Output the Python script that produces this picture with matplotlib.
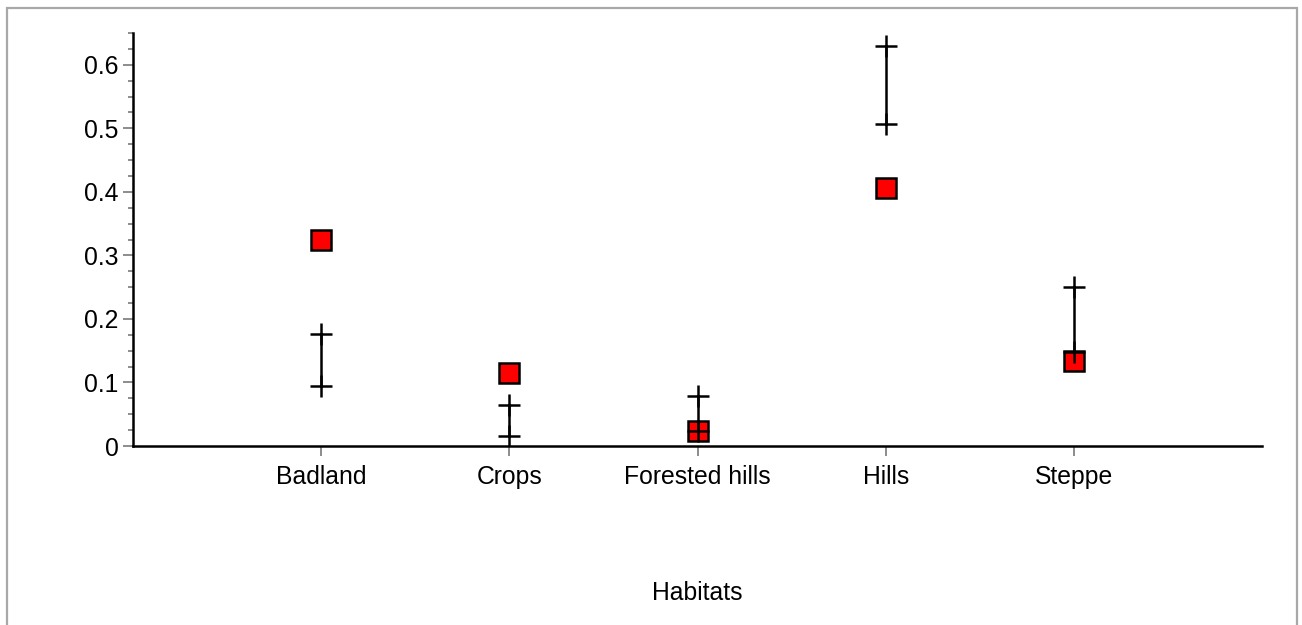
import matplotlib
matplotlib.use("Agg")
import matplotlib.pyplot as plt
from matplotlib.patches import Rectangle
from matplotlib.ticker import MultipleLocator
import numpy as np

plt.rcParams['font.family'] = ['Liberation Sans', 'DejaVu Sans']

# habitat categories and observed proportions
habitats = ['Badland', 'Crops', 'Forested hills', 'Hills', 'Steppe']
observed = [0.324, 0.115, 0.024, 0.406, 0.134]
# expected interval (lower / upper bounds)
ci_low = [0.094, 0.015, 0.024, 0.506, 0.148]
ci_high = [0.177, 0.064, 0.079, 0.629, 0.251]

x = np.arange(len(habitats))

fig = plt.figure(figsize=(13.02, 6.25), dpi=100)
ax = fig.add_axes([0.1022, 0.2864, 0.8671, 0.6608])

# observed values as red squares
ax.plot(x, observed, linestyle='none', marker='s', markersize=14,
        markerfacecolor='#ff0000', markeredgecolor='black', markeredgewidth=1.8,
        zorder=3)

# interval: vertical line with + markers at both ends
ax.vlines(x, ci_low, ci_high, colors='black', linewidth=1.8, zorder=4)
ax.plot(x, ci_low, linestyle='none', marker='+', markersize=15.5,
        markeredgewidth=1.8, color='black', zorder=4)
ax.plot(x, ci_high, linestyle='none', marker='+', markersize=15.5,
        markeredgewidth=1.8, color='black', zorder=4)

ax.set_xlim(-1, 5)
ax.set_ylim(0, 0.65)
ax.set_xticks(x)
ax.set_xticklabels(habitats, fontsize=17.8)
ax.yaxis.set_major_locator(MultipleLocator(0.1))
ax.yaxis.set_minor_locator(MultipleLocator(0.025))
ax.set_yticks(np.arange(0, 0.61, 0.1))
ax.set_yticklabels(['0', '0.1', '0.2', '0.3', '0.4', '0.5', '0.6'], fontsize=17.8)

ax.tick_params(axis='both', which='major', length=7.5, width=1.4, color='#8c8c8c')
ax.tick_params(axis='y', which='minor', length=3.8, width=1.4, color='#8c8c8c')
ax.tick_params(axis='x', pad=6)
ax.tick_params(axis='y', pad=3)

for side in ['top', 'right']:
    ax.spines[side].set_visible(False)
for side in ['left', 'bottom']:
    ax.spines[side].set_linewidth(1.8)
    ax.spines[side].set_color('black')

fig.text(0.5357, 0.0512, 'Habitats', fontsize=17.8, ha='center', va='center')

# outer frame
fig.patches.append(Rectangle((7 / 1302, -0.05), 1290 / 1302, 1.05 - 8 / 625,
                             transform=fig.transFigure, fill=False,
                             edgecolor='#a8a8a8', linewidth=1.6))

fig.savefig('out.png', dpi=100)
